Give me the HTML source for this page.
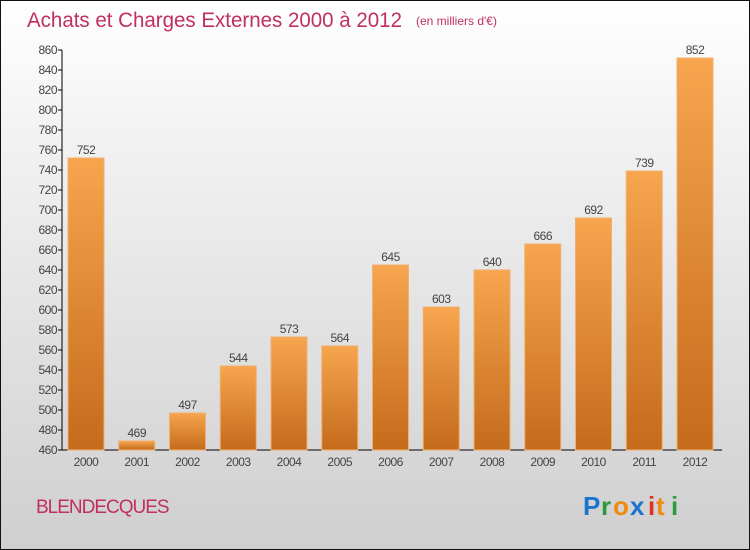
<!DOCTYPE html>
<html><head><meta charset="utf-8"><style>
body{margin:0}
#c{width:750px;height:550px;position:relative;box-sizing:border-box;border:1px solid #111;background:linear-gradient(#ffffff,#f2f2f2 25%,#cfcfcf);font-family:"Liberation Sans",sans-serif;overflow:hidden}
</style></head><body>
<div id="c">
<svg width="750" height="550" style="position:absolute;left:-1px;top:-1px" id="svg">
<defs><linearGradient id="g" x1="0" y1="0" x2="0" y2="1"><stop offset="0" stop-color="#f7a54e"/><stop offset="1" stop-color="#c46b1c"/></linearGradient></defs>
<text x="27" y="27" font-size="21" fill="#c0305e" textLength="375" lengthAdjust="spacingAndGlyphs">Achats et Charges Externes 2000 à 2012</text>
<text x="416" y="25" font-size="12" fill="#c0305e">(en milliers d'€)</text>
<text x="36" y="513" font-size="19" fill="#c0305e" letter-spacing="-1">BLENDECQUES</text>
<g font-size="26" font-weight="bold" font-family="Liberation Sans,sans-serif">
<text x="583" y="515" fill="#1a74d0">P</text><text x="601" y="515" fill="#2e9a3e">r</text><text x="613" y="515" fill="#f08a10">o</text><text x="630" y="515" fill="#1a74d0">x</text><text x="648" y="515" fill="#e0301e">i</text><text x="656" y="515" fill="#f08a10">t</text><text x="671" y="515" fill="#2e9a3e">i</text>
</g>
<g id="ax"></g><g id="bars"></g>
</svg>
</div>
<script>
const years=["2000","2001","2002","2003","2004","2005","2006","2007","2008","2009","2010","2011","2012"];
const values=[752,469,497,544,573,564,645,603,640,666,692,739,852];
const yTicks=[460,480,500,520,540,560,580,600,620,640,660,680,700,720,740,760,780,800,820,840,860];
const NS="http://www.w3.org/2000/svg";
const y=v=>450-(v-460);
const x=i=>68+i*50.75;
const ax=document.getElementById('ax'),bars=document.getElementById('bars');
function mk(t,a,p){const e=document.createElementNS(NS,t);for(const k in a)e.setAttribute(k,a[k]);p.appendChild(e);return e;}
let l=mk('line',{x1:62,y1:50,x2:62,y2:450,stroke:'#000'},ax);


l=mk('line',{x1:62,y1:450,x2:722,y2:450,stroke:'#000'},ax);


yTicks.forEach(v=>{
 const tk=mk('line',{x1:58,x2:62,y1:y(v),y2:y(v),stroke:'#000'},ax);
 
 
 const t=mk('text',{x:57,y:y(v)+4,'font-size':12,fill:'#444','text-anchor':'end','letter-spacing':'-0.5'},ax);
 t.textContent=v;
 
 
});
values.forEach((v,i)=>{
 const r=mk('rect',{x:x(i),y:y(v),width:36,height:450-y(v),fill:'url(#g)',stroke:'#f0b070','stroke-width':1},bars);
 
 
 const t=mk('text',{x:x(i)+18,y:y(v)-4,'font-size':12,fill:'#444','text-anchor':'middle','letter-spacing':'-0.5'},bars);
 t.textContent=v;
 
 
 const xl=mk('text',{x:x(i)+18,y:466,'font-size':12,fill:'#444','text-anchor':'middle','letter-spacing':'-0.5'},bars);
 xl.textContent=years[i];
 
 
});
</script>
</body></html>
